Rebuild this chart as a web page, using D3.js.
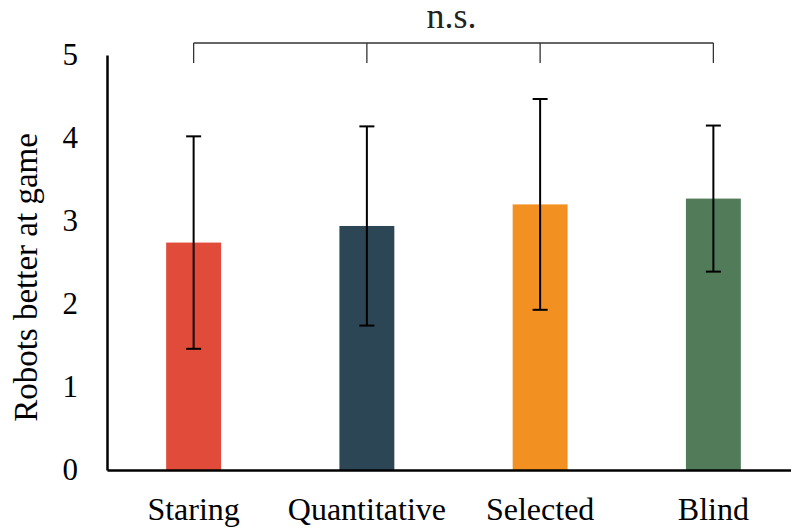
<!DOCTYPE html>
<html>
<head>
<meta charset="utf-8">
<script src="https://cdn.jsdelivr.net/npm/d3@7"></script>
<style>
    body { margin: 0; background: #fff; }
    svg { display: block; }
    svg text { font-family: "Liberation Serif", "Times New Roman", serif; }
</style>
</head>
<body>
<svg id="chart" width="791" height="529"></svg>
<script>
// ===============================================================
//  Robots better at game — mean rating per condition (± SD)
// ===============================================================

// === DATA ======================================================
const categories = ["Staring", "Quantitative", "Selected", "Blind"];
const means = [2.74, 2.94, 3.20, 3.27];
const errors = [1.28, 1.20, 1.27, 0.88];
const barColors = ["#E14B3A", "#2D4656", "#F29022", "#527B5A"];
const yTicks = [0, 1, 2, 3, 4, 5];
const sigLabel = "n.s.";

// === LAYOUT ====================================================
const svg = d3.select("#chart");

const x = d3.scaleBand()
    .domain(categories)
    .range([107, 800])
    .paddingInner(0.683)
    .paddingOuter(0.3415);

const y = d3.scaleLinear()
    .domain([0, 5])
    .range([470, 55]);

// === BARS ======================================================
svg.append("g")
    .selectAll("rect")
    .data(categories)
    .enter()
    .append("rect")
    .attr("x", d => x(d))
    .attr("width", x.bandwidth())
    .attr("y", (d, i) => y(means[i]))
    .attr("height", (d, i) => y(0) - y(means[i]))
    .attr("fill", (d, i) => barColors[i]);

// === ERROR BARS ================================================
const cx = d => x(d) + x.bandwidth() / 2;
const capHalf = 7.5;

const err = svg.append("g")
    .attr("stroke", "#000")
    .attr("stroke-width", 2)
    .selectAll("g")
    .data(categories)
    .enter()
    .append("g");

err.append("line")
    .attr("x1", cx).attr("x2", cx)
    .attr("y1", (d, i) => y(means[i] + errors[i]))
    .attr("y2", (d, i) => y(means[i] - errors[i]));

err.append("line")
    .attr("x1", d => cx(d) - capHalf).attr("x2", d => cx(d) + capHalf)
    .attr("y1", (d, i) => y(means[i] + errors[i]))
    .attr("y2", (d, i) => y(means[i] + errors[i]));

err.append("line")
    .attr("x1", d => cx(d) - capHalf).attr("x2", d => cx(d) + capHalf)
    .attr("y1", (d, i) => y(means[i] - errors[i]))
    .attr("y2", (d, i) => y(means[i] - errors[i]));

// === AXES ======================================================
const yAxis = svg.append("g")
    .attr("transform", "translate(107,0)")
    .call(d3.axisLeft(y).tickValues(yTicks).tickFormat(d3.format("d"))
        .tickSize(0).tickSizeOuter(0).tickPadding(29));

const xAxis = svg.append("g")
    .attr("transform", "translate(0,470)")
    .call(d3.axisBottom(x).tickSize(0).tickSizeOuter(0).tickPadding(27));

[yAxis, xAxis].forEach(ax => {
    ax.attr("font-family", null);
    ax.select(".domain").attr("stroke", "#000").attr("stroke-width", 2.5);
    ax.selectAll("text").attr("fill", "#000");
});
yAxis.selectAll("text").style("font-size", "31px");
xAxis.selectAll("text").style("font-size", "32px");

svg.append("text")
    .attr("transform", `translate(37,${(y(0) + y(5)) / 2 + 15}) rotate(-90)`)
    .attr("text-anchor", "middle")
    .style("font-size", "33px")
    .attr("fill", "#000")
    .text("Robots better at game");

// === SIGNIFICANCE BRACKET =====================================
const bracketY = 43;
const bracketDrop = 20;
const first = cx(categories[0]);
const last = cx(categories[categories.length - 1]);

const bracket = svg.append("g")
    .attr("stroke", "#333")
    .attr("stroke-width", 1.3)
    .attr("fill", "none");

bracket.append("line")
    .attr("x1", first).attr("x2", last)
    .attr("y1", bracketY).attr("y2", bracketY);

bracket.selectAll("line.tick")
    .data(categories)
    .enter()
    .append("line")
    .attr("class", "tick")
    .attr("x1", cx).attr("x2", cx)
    .attr("y1", bracketY).attr("y2", bracketY + bracketDrop);

svg.append("text")
    .attr("x", (first + last) / 2 - 2)
    .attr("y", 28)
    .attr("text-anchor", "middle")
    .style("font-size", "36px")
    .attr("fill", "#222")
    .text(sigLabel);
</script>
</body>
</html>
